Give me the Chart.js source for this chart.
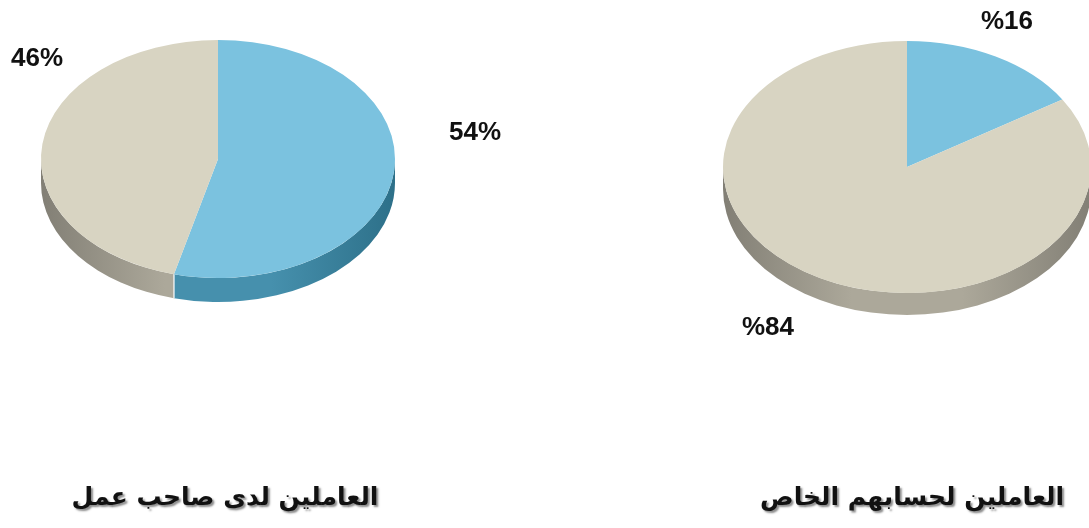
<!DOCTYPE html>
<html>
<head>
<meta charset="utf-8">
<script src="https://cdn.jsdelivr.net/npm/chart.js@4.4.0/dist/chart.umd.min.js"></script>
<style>
    html, body { margin: 0; background: #fff; }
    #wrap { position: relative; width: 1089px; height: 528px; }
    #wrap canvas { position: absolute; left: 0; top: 0; }
</style>
</head>
<body>
<div id="wrap">
    <canvas id="employedChart" width="1089" height="528"></canvas>
    <canvas id="selfChart" width="1089" height="528"></canvas>
</div>
<script>
// Data
var categories = ['blue', 'beige'];
var employedValues = [54, 46];      // العاملين لدى صاحب عمل
var selfEmployedValues = [16, 84];  // العاملين لحسابهم الخاص
var chartTitles = ['العاملين لدى صاحب عمل', 'العاملين لحسابهم الخاص'];

var topColors = ['#7bc2df', '#d8d4c2'],
    sideColors = [['#2d7089', '#4690ad'], ['#827f75', '#aca89a']];

// Plugin block: squash the pie into an ellipse and give it a side wall
const pie3d = {
    id: 'pie3d',
    beforeDatasetsDraw(chart, args, opts) {
        const ctx = chart.ctx;
        const arcs = chart.getDatasetMeta(0).data;
        const cx = arcs[0].x, cy = arcs[0].y, r = arcs[0].outerRadius;
        const ry = opts.radiusY, cyT = opts.centerY, d = opts.depth;

        arcs.forEach(function (arc, i) {
            const s = Math.max(arc.startAngle, 0),
                e = Math.min(arc.endAngle, Math.PI);
            if (s >= e) return;
            const g = ctx.createLinearGradient(cx - r, 0, cx + r, 0);
            g.addColorStop(0, sideColors[i][0]);
            g.addColorStop(0.35, sideColors[i][1]);
            g.addColorStop(0.65, sideColors[i][1]);
            g.addColorStop(1, sideColors[i][0]);
            ctx.fillStyle = g;
            ctx.beginPath();
            ctx.ellipse(cx, cyT, r, ry, 0, s, e);
            ctx.ellipse(cx, cyT + d, r, ry, 0, e, s, true);
            ctx.closePath();
            ctx.fill();
        });

        // light seam where two slices meet on the wall
        arcs.forEach(function (arc) {
            let a = arc.startAngle % (Math.PI * 2);
            if (a < 0) a += Math.PI * 2;
            if (a <= 0.01 || a >= Math.PI - 0.01) return;
            const x = cx + r * Math.cos(a), y = cyT + ry * Math.sin(a);
            ctx.strokeStyle = 'rgba(255,255,255,0.8)';
            ctx.lineWidth = 1.5;
            ctx.beginPath();
            ctx.moveTo(x, y);
            ctx.lineTo(x, y + d);
            ctx.stroke();
        });

        ctx.save();
        ctx.translate(cx, cyT);
        ctx.scale(1, ry / r);
        ctx.translate(-cx, -cy);
    },
    afterDatasetsDraw(chart) {
        chart.ctx.restore();
    }
};

// Percentages and the caption under each pie
const pieText = {
    id: 'pieText',
    afterDraw(chart, args, opts) {
        const ctx = chart.ctx;
        const values = chart.data.datasets[0].data;
        ctx.save();
        ctx.textAlign = 'center';
        ctx.textBaseline = 'middle';
        ctx.fillStyle = '#111';
        ctx.font = 'bold 26px "Liberation Sans", Arial, sans-serif';
        values.forEach(function (v, i) {
            const p = opts.labelPos[i];
            ctx.fillText(opts.format(v), p[0], p[1]);
        });

        ctx.direction = 'rtl';
        ctx.font = 'bold 25px "DejaVu Sans", sans-serif';
        ctx.shadowColor = 'rgba(0,0,0,0.45)';
        ctx.shadowOffsetX = 2;
        ctx.shadowOffsetY = 2;
        ctx.shadowBlur = 2;
        ctx.fillText(opts.title, opts.titlePos[0], opts.titlePos[1]);
        ctx.restore();
    }
};

function makePie(id, values, radius, padding, shape, text) {
    return new Chart(document.getElementById(id), {
        type: 'pie',
        data: {
            labels: categories,
            datasets: [{
                data: values,
                backgroundColor: topColors,
                borderWidth: 0,
                hoverOffset: 0,
                radius: radius,
                clip: false
            }]
        },
        options: {
            responsive: false,
            animation: false,
            events: [],
            layout: { padding: padding },
            plugins: {
                legend: { display: false },
                tooltip: { enabled: false },
                pie3d: shape,
                pieText: text
            }
        },
        plugins: [pie3d, pieText]
    });
}

makePie('employedChart', employedValues, 177,
    { left: 41, right: 694, top: 0, bottom: 0 },
    { centerY: 159, radiusY: 119, depth: 24 },
    {
        format: function (v) { return v + '%'; },
        labelPos: [[475, 133], [37, 59]],
        title: chartTitles[0],
        titlePos: [225, 498]
    });

makePie('selfChart', selfEmployedValues, 184,
    { left: 725, right: 0, top: 0, bottom: 0 },
    { centerY: 167, radiusY: 126, depth: 22 },
    {
        format: function (v) { return '%' + v; },
        labelPos: [[1007, 22], [768, 328]],
        title: chartTitles[1],
        titlePos: [912, 498]
    });
</script>
</body>
</html>
